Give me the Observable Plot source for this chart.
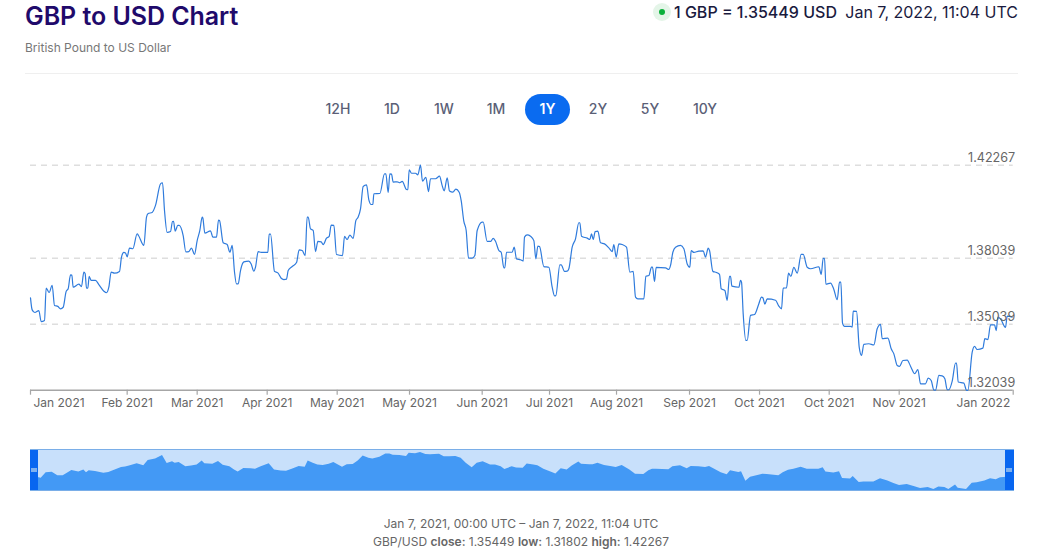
<!DOCTYPE html>
<html>
<head>
<meta charset="utf-8">
<script src="https://cdn.jsdelivr.net/npm/d3@7"></script>
<script src="https://cdn.jsdelivr.net/npm/@observablehq/plot@0.6"></script>
<style>
html,body{margin:0;padding:0;background:#fff;}
body{width:1046px;height:557px;position:relative;overflow:hidden;font-family:Inter,"Noto Sans",sans-serif;}
.abs{position:absolute;white-space:nowrap;}
.btn{position:absolute;top:94px;height:31px;line-height:30px;width:46px;text-align:center;font-size:14px;font-weight:500;color:#5b5f77;}
.btn.on{left:525px;width:45px;background:#0a6bf0;color:#fff;font-weight:600;border-radius:16px;}
svg{display:block;}
</style>
</head>
<body>
<div class="abs" style="left:25px;top:1px;font-size:25px;line-height:30px;font-weight:600;color:#1f0a6b;letter-spacing:-0.05px">GBP to USD Chart</div>
<div class="abs" style="left:25px;top:40px;font-size:12px;line-height:15px;color:#777">British Pound to US Dollar</div>
<div class="abs" style="left:25px;top:73px;width:993px;height:1px;background:#efefef"></div>
<div class="abs" style="left:653px;top:3px;width:18px;height:18px;border-radius:9px;background:#e4f5e8"></div>
<div class="abs" style="left:659px;top:9px;width:6px;height:6px;border-radius:3px;background:#0ab03a"></div>
<div class="abs" style="left:674px;top:2px;font-size:16px;line-height:20px;font-weight:500;color:#1a1a3e">1 GBP = 1.35449 USD</div>
<div class="abs" style="right:28px;top:2px;font-size:16px;line-height:20px;color:#1a1a3e">Jan 7, 2022, 11:04 UTC</div>
<div id="buttons"></div>
<div id="main" class="abs" style="left:0;top:140px"></div>
<div class="abs" style="left:30px;top:449px;width:984px;height:42px;background:#c8e0fb"></div>
<div id="nav" class="abs" style="left:0;top:449px"></div>
<div class="abs" style="left:30px;top:449px;width:982px;height:40px;border:1px solid #7aaee8"></div>
<div class="abs" style="left:30px;top:450px;width:8px;height:40px;background:#0866f0"></div>
<div class="abs" style="left:1005px;top:450px;width:9px;height:40px;background:#0866f0"></div>
<div class="abs" style="left:31px;top:468px;width:6px;height:4px;background:#7eb0ee"></div>
<div class="abs" style="left:1006px;top:468px;width:6px;height:4px;background:#7eb0ee"></div>
<div class="abs" style="left:0;width:1042px;top:516px;text-align:center;font-size:12px;line-height:16px;color:#666">Jan 7, 2021, 00:00 UTC &#8211; Jan 7, 2022, 11:04 UTC</div>
<div class="abs" style="left:0;width:1042px;top:534px;text-align:center;font-size:12px;line-height:16px;color:#666">GBP/USD <b style="font-weight:600">close:</b> 1.35449 <b style="font-weight:600">low:</b> 1.31802 <b style="font-weight:600">high:</b> 1.42267</div>
<script>
const ranges = ["12H","1D","1W","1M","1Y","2Y","5Y","10Y"];
const rangeCenters = [338,392,444,496,547.5,598,650,705];

const gridLevels = [1.42267,1.38039,1.35039,1.32039];
const gridLabels = ["1.42267","1.38039","1.35039","1.32039"];

const tickSteps = [0,290,500,710,920,1137,1355,1557,1758,1977,2187,2396,2606,2948];
const tickLabels = ["Jan 2021","Feb 2021","Mar 2021","Apr 2021","May 2021","May 2021","Jun 2021","Jul 2021","Aug 2021","Sep 2021","Oct 2021","Oct 2021","Nov 2021","Jan 2022"];

const steps = [
0,5,13,25,32,42,47,56,65,72,
82,90,98,107,113,120,124,128,145,153,
160,164,168,172,176,182,195,205,220,228,
235,242,252,267,273,280,285,290,297,307,
320,324,340,348,353,365,375,390,396,402,
410,420,426,429,434,442,446,458,466,475,
483,492,500,508,515,517,523,540,547,558,
564,567,578,590,598,605,612,618,623,630,
640,655,662,670,675,683,692,712,716,720,
732,742,752,760,768,773,785,798,806,815,
824,830,833,840,848,855,862,872,878,888,
896,902,910,918,936,942,950,958,968,976,
983,990,998,1008,1015,1022,1027,1030,1048,1062,
1066,1073,1078,1083,1088,1100,1108,1115,1128,1132,
1136,1143,1155,1162,1170,1176,1186,1194,1200,1215,
1227,1235,1241,1250,1257,1267,1276,1286,1292,1300,
1307,1314,1325,1333,1340,1355,1358,1370,1380,1388,
1395,1405,1412,1420,1423,1428,1445,1451,1458,1470,
1478,1482,1490,1500,1510,1516,1522,1527,1540,1555,
1565,1572,1576,1588,1592,1602,1610,1615,1625,1635,
1645,1648,1653,1670,1678,1683,1688,1694,1702,1710,
1722,1735,1745,1750,1757,1765,1775,1788,1798,1808,
1815,1822,1840,1846,1855,1863,1866,1872,1877,1905,
1915,1920,1927,1935,1950,1960,1970,1978,1982,1990,
2005,2018,2025,2033,2037,2047,2058,2067,2072,2083,
2090,2097,2100,2104,2125,2130,2133,2138,2146,2150,
2160,2172,2185,2193,2197,2203,2210,2235,2245,2253,
2258,2268,2274,2281,2290,2300,2312,2318,2330,2340,
2365,2372,2378,2382,2386,2400,2410,2420,2427,2431,
2436,2442,2460,2465,2468,2478,2486,2493,2500,2515,
2530,2540,2550,2555,2572,2582,2590,2600,2607,2617,
2630,2640,2653,2662,2670,2685,2693,2702,2710,2715,
2725,2735,2743,2750,2755,2765,2775,2778,2783,2800,
2808,2812,2825,2832,2840,2857,2863,2872,2880,2892,
2897,2902,2910,2925,2930,2945
];
const closes = [
1.3624,1.3569,1.3557,1.3566,1.3516,1.3521,1.3668,1.3648,1.3681,1.3589,
1.3585,1.3574,1.3581,1.3653,1.3665,1.3728,1.3727,1.3672,1.3686,1.3675,
1.3741,1.3733,1.3668,1.3668,1.3722,1.3703,1.3703,1.3684,1.3654,1.3647,
1.3672,1.3741,1.3736,1.3744,1.3809,1.3830,1.3828,1.3810,1.3850,1.3847,
1.3915,1.3907,1.3862,1.3991,1.4007,1.4012,1.4044,1.4142,1.4147,1.4021,
1.3921,1.3925,1.3971,1.3972,1.3927,1.3953,1.3953,1.3907,1.3833,1.3834,
1.3850,1.3821,1.3884,1.3930,1.3991,1.3987,1.3918,1.3928,1.3900,1.3900,
1.3977,1.3975,1.3874,1.3866,1.3831,1.3862,1.3741,1.3687,1.3687,1.3748,
1.3787,1.3791,1.3778,1.3745,1.3763,1.3834,1.3830,1.3830,1.3913,1.3913,
1.3744,1.3737,1.3713,1.3707,1.3709,1.3748,1.3766,1.3784,1.3842,1.3839,
1.3816,1.3991,1.3991,1.3937,1.3930,1.3834,1.3880,1.3878,1.3866,1.3895,
1.3903,1.3954,1.3953,1.3821,1.3816,1.3903,1.3889,1.3909,1.3894,1.3975,
1.3991,1.4028,1.4130,1.4137,1.4069,1.4048,1.4048,1.4097,1.4098,1.4187,
1.4187,1.4103,1.4187,1.4186,1.4150,1.4151,1.4147,1.4153,1.4116,1.4115,
1.4206,1.4190,1.4190,1.4183,1.42267,1.4154,1.4172,1.4107,1.4165,1.4165,
1.4177,1.4134,1.4110,1.4169,1.4109,1.4104,1.4118,1.4104,1.4066,1.3971,
1.3930,1.3804,1.3804,1.3816,1.3930,1.3968,1.3968,1.3880,1.3880,1.3894,
1.3881,1.3839,1.3831,1.3760,1.3760,1.3831,1.3831,1.3854,1.3801,1.3797,
1.3791,1.3900,1.3910,1.3904,1.3884,1.3801,1.3859,1.3857,1.3766,1.3763,
1.3672,1.3633,1.3634,1.3774,1.3774,1.3744,1.3745,1.3756,1.3854,1.3892,
1.3965,1.3965,1.3904,1.3895,1.3889,1.3915,1.3889,1.3925,1.3927,1.3874,
1.3869,1.3851,1.3834,1.3866,1.3809,1.3869,1.3866,1.3854,1.3741,1.3744,
1.3627,1.3619,1.3619,1.3722,1.3725,1.3763,1.3763,1.3698,1.3762,1.3760,
1.3753,1.3771,1.3831,1.3854,1.3862,1.3847,1.3778,1.3763,1.3839,1.3830,
1.3836,1.3837,1.3809,1.3850,1.3839,1.3744,1.3739,1.3730,1.3665,1.3657,
1.3612,1.3722,1.3722,1.3677,1.3672,1.3703,1.3695,1.3551,1.3430,1.3430,
1.3544,1.3548,1.3597,1.3627,1.3624,1.3595,1.3619,1.3613,1.3586,1.3574,
1.3668,1.3669,1.3736,1.3722,1.3762,1.3736,1.3821,1.3821,1.3763,1.3756,
1.3765,1.3730,1.3803,1.3803,1.3686,1.3691,1.3662,1.3615,1.3695,1.3695,
1.3509,1.3494,1.3494,1.3491,1.3563,1.3562,1.3400,1.3362,1.3412,1.3415,
1.3410,1.3483,1.3503,1.3438,1.3441,1.3392,1.3369,1.3316,1.3312,1.3339,
1.3341,1.3313,1.3279,1.3298,1.3233,1.3233,1.3259,1.3248,1.3204,1.3204,
1.3271,1.3269,1.3256,1.3206,1.3206,1.3245,1.3327,1.3327,1.3241,1.3236,
1.3203,1.3203,1.3377,1.3403,1.3389,1.3395,1.3438,1.3434,1.3501,1.3501,
1.3475,1.3536,1.3528,1.3489,1.3541,1.3536
];

const quotes = steps.map((step,i)=>({step, close:closes[i]}));
const xDomain = [0,2948];
const xRange = [30,1012.7];

ranges.forEach((r,i)=>{
  const d=document.createElement("div");
  d.className = r==="1Y" ? "btn on" : "btn";
  d.textContent=r;
  if(r!=="1Y") d.style.left=(rangeCenters[i]-23)+"px";
  document.getElementById("buttons").appendChild(d);
});

const grid = gridLevels.slice(0,3);
const axisFont = {fontFamily:"Inter, 'Noto Sans', sans-serif"};
const tickRows = tickSteps.map((s,i)=>({s,label:tickLabels[i]}));

const main = Plot.plot({
  width:1046, height:270,
  marginLeft:30, marginRight:33.3, marginTop:24.7, marginBottom:20.3,
  style:{background:"transparent",overflow:"visible",...axisFont},
  x:{domain:xDomain, range:xRange, axis:null},
  y:{domain:[1.32039,1.42267], range:[249.7,24.7], axis:null},
  marks:[
    Plot.ruleY(grid,{stroke:"#dedede",strokeWidth:1.5,strokeDasharray:"6,5"}),
    Plot.ruleY([gridLevels[3]],{stroke:"#a6a6a6",strokeWidth:1.5}),
    Plot.ruleX(tickSteps,{x:d=>d,y1:()=>1.32039,y2:()=>1.31812,stroke:"#a6a6a6",strokeWidth:1.2}),
    Plot.line(quotes,{x:"step",y:"close",stroke:"#2f7bdc",strokeWidth:1.2,curve:"monotone-x"}),
    Plot.text(gridLevels,{x:()=>xDomain[1],y:d=>d,text:(d,i)=>gridLabels[i],dx:2,dy:-7.5,textAnchor:"end",fontSize:12.6,fill:"#666"}),
    Plot.text(tickRows.slice(0,1),{x:"s",y:()=>1.32039,text:"label",dx:3,dy:13,textAnchor:"start",fontSize:12,fill:"#666"}),
    Plot.text(tickRows.slice(1,-1),{x:"s",y:()=>1.32039,text:"label",dy:13,textAnchor:"middle",fontSize:12,fill:"#666"}),
    Plot.text(tickRows.slice(-1),{x:"s",y:()=>1.32039,text:"label",dx:-3,dy:13,textAnchor:"end",fontSize:12,fill:"#666"})
  ]
});
document.getElementById("main").appendChild(main);

const nav = Plot.plot({
  width:1046, height:42,
  marginLeft:30, marginRight:33.3, marginTop:0, marginBottom:0,
  style:{background:"transparent"},
  x:{domain:xDomain, range:xRange, axis:null},
  y:{domain:[1.3176,1.42267], range:[41,3], axis:null},
  marks:[
    Plot.areaY(quotes.filter((d,i)=>i%2===0),{x:"step",y1:()=>1.3176,y2:"close",fill:"#4399f5",curve:"linear"})
  ]
});
document.getElementById("nav").appendChild(nav);
</script>
</body>
</html>
